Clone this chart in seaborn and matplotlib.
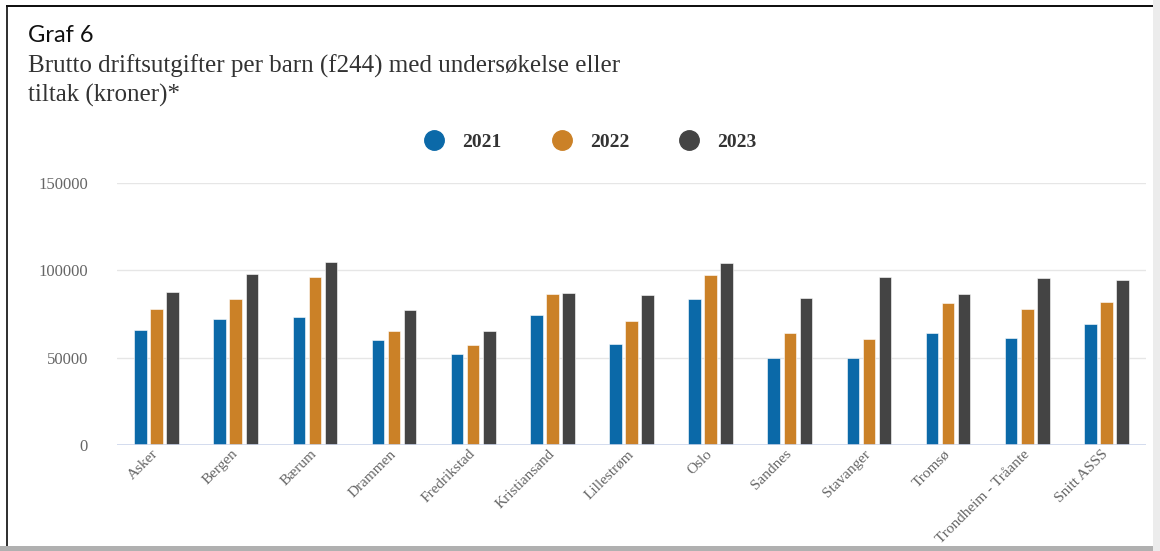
import pandas as pd
import matplotlib.pyplot as plt
import seaborn as sns
from matplotlib.lines import Line2D
from matplotlib.patches import Rectangle

kommuner = ['Asker', 'Bergen', 'Bærum', 'Drammen', 'Fredrikstad', 'Kristiansand',
            'Lillestrøm', 'Oslo', 'Sandnes', 'Stavanger', 'Tromsø',
            'Trondheim - Tråante', 'Snitt ASSS']
aar = ['2021', '2022', '2023']
v2021 = [65600, 72100, 73500, 60100, 52100, 74200, 57800, 83600, 50000, 50000, 64300, 61500, 69300]
v2022 = [77700, 83400, 96400, 65100, 57100, 86500, 70800, 97100, 64300, 60700, 81500, 77900, 82100]
v2023 = [87800, 97900, 105000, 77100, 65100, 87000, 85700, 104200, 84200, 96400, 86500, 95600, 94300]
farger = ['#0b69a8', '#cb8127', '#444444']

df = pd.DataFrame({'kommune': kommuner * 3,
                   'aar': [a for a in aar for _ in kommuner],
                   'verdi': v2021 + v2022 + v2023})

sns.set_style('white')
serif = ['Liberation Serif', 'DejaVu Serif']

fig = plt.figure(figsize=(11.6, 5.51), dpi=100)
ax = fig.add_axes([117 / 1160, 1 - 445 / 551, 1029 / 1160, 262 / 551])

sns.barplot(data=df, x='kommune', y='verdi', hue='aar', palette=farger,
            saturation=1, width=0.61, gap=0.22, edgecolor='white', linewidth=0.4,
            legend=False, ax=ax)

ax.set_ylim(0, 150000)
ax.set_xlim(-0.5, len(kommuner) - 0.5)
ax.set_yticks([0, 50000, 100000, 150000])
ax.set_yticklabels(['0', '50000', '100000', '150000'])
for y in [50000, 100000, 150000]:
    ax.axhline(y, color='#e6e6e6', lw=1, zorder=0)
ax.axhline(0, color='#ccd6eb', lw=1.2, zorder=3)
sns.despine(ax=ax, left=True, bottom=True)
ax.set_xlabel('')
ax.set_ylabel('')
ax.tick_params(axis='both', length=0)
ax.tick_params(axis='y', pad=21)
ax.tick_params(axis='x', pad=5)
for lab in ax.get_yticklabels():
    lab.set_family(serif)
    lab.set_fontsize(12)
    lab.set_color('#666666')
for lab in ax.get_xticklabels():
    lab.set_family(serif)
    lab.set_fontsize(11)
    lab.set_color('#666666')
    lab.set_rotation(45)
    lab.set_ha('right')
    lab.set_rotation_mode('anchor')
    lab.set_va('center')

handles = [Line2D([], [], marker='o', linestyle='', markersize=14,
                  markerfacecolor=c, markeredgecolor=c) for c in farger]
leg = fig.legend(handles, aar, loc='center', bbox_to_anchor=(0.505, 1 - 142 / 551),
                 ncol=3, frameon=False, columnspacing=2.1, handletextpad=0.44,
                 prop={'family': serif, 'weight': 'bold', 'size': 14})
for t in leg.get_texts():
    t.set_color('#333333')

fig.text(28 / 1160, 1 - 36 / 551, 'Graf 6', family=['Lato', 'DejaVu Sans'],
         fontsize=17, color='#111111', va='center', ha='left')
fig.text(28 / 1160, 1 - 55 / 551,
         'Brutto driftsutgifter per barn (f244) med undersøkelse eller\ntiltak (kroner)*',
         family=serif, fontsize=18, color='#333333', va='top', ha='left',
         linespacing=1.3)

# ramme rundt figuren
fig.add_artist(Rectangle((6 / 1160, 0), 2 / 1160, 1 - 5 / 551, transform=fig.transFigure,
                         color='#333333', lw=0))
fig.add_artist(Rectangle((6 / 1160, 1 - 6.5 / 551), 1150 / 1160, 1.6 / 551,
                         transform=fig.transFigure, color='#111111', lw=0))
fig.add_artist(Rectangle((0, 0), 1, 5 / 551, transform=fig.transFigure,
                         color='#b0b0b0', lw=0))
fig.add_artist(Rectangle((1153 / 1160, 0), 7 / 1160, 1, transform=fig.transFigure,
                         color='#ececec', lw=0))

fig.savefig('out.png', dpi=100)
